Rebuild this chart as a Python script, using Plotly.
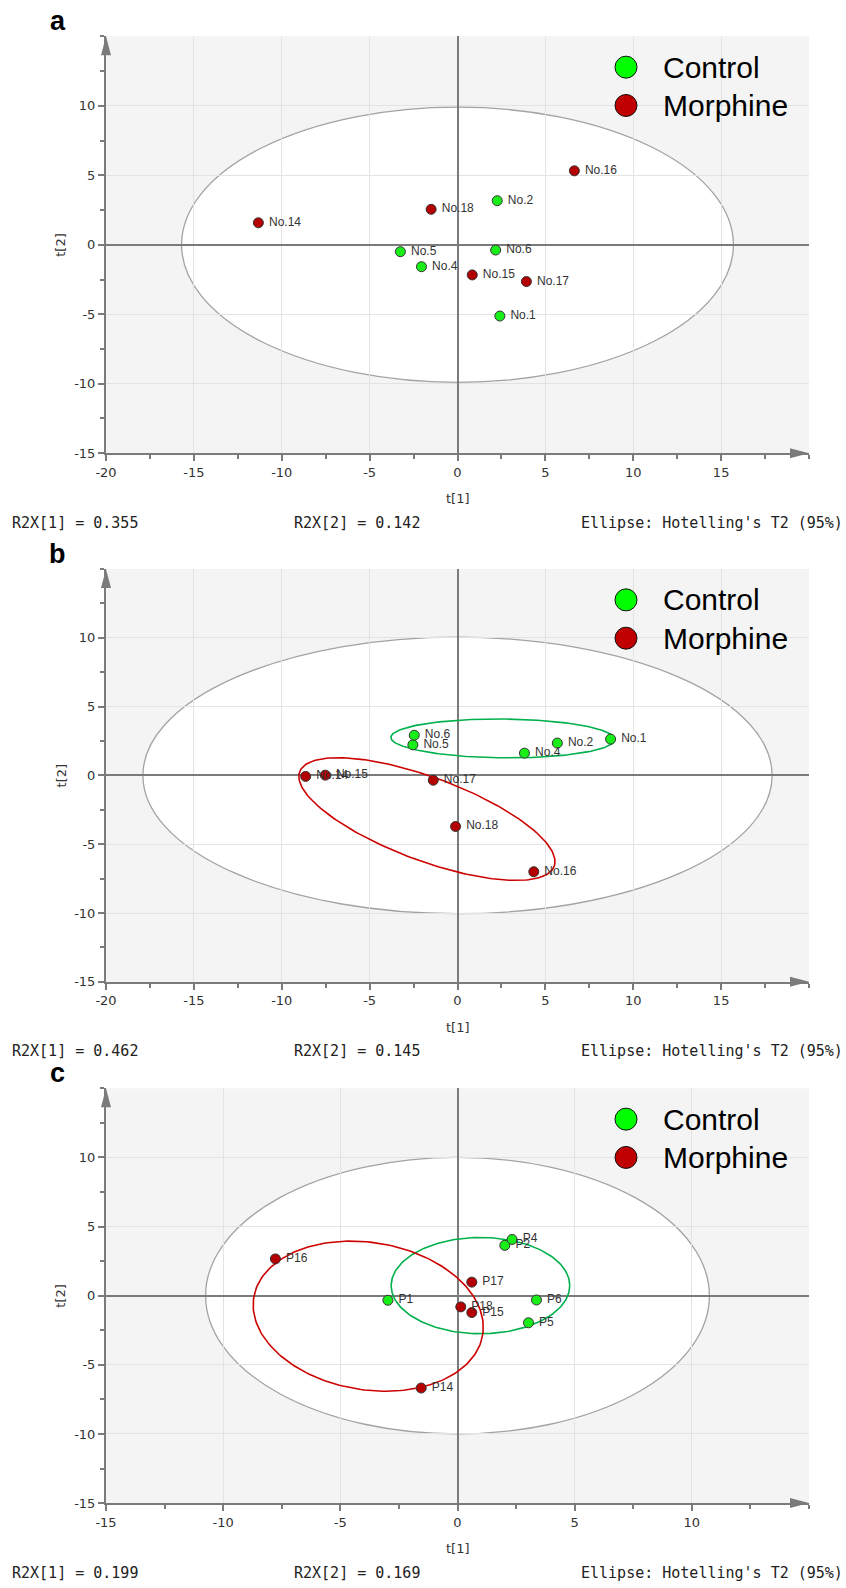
import numpy as np
import plotly.graph_objects as go

W, H = 846, 1588

# ---------------- score data (t[1], t[2]) ----------------
# panel a
a_ctrl_names = ["No.1", "No.2", "No.4", "No.5", "No.6"]
a_ctrl_t1 = [2.41, 2.26, -2.05, -3.25, 2.17]
a_ctrl_t2 = [-5.13, 3.17, -1.58, -0.50, -0.38]
a_morph_names = ["No.14", "No.15", "No.16", "No.17", "No.18"]
a_morph_t1 = [-11.33, 0.84, 6.65, 3.92, -1.50]
a_morph_t2 = [1.58, -2.17, 5.32, -2.65, 2.55]

# panel b
b_ctrl_names = ["No.1", "No.2", "No.4", "No.5", "No.6"]
b_ctrl_t1 = [8.71, 5.68, 3.81, -2.54, -2.46]
b_ctrl_t2 = [2.64, 2.35, 1.62, 2.22, 2.92]
b_morph_names = ["No.14", "No.15", "No.16", "No.17", "No.18"]
b_morph_t1 = [-8.64, -7.52, 4.34, -1.38, -0.11]
b_morph_t2 = [-0.07, 0.02, -7.00, -0.35, -3.71]

# panel c
c_ctrl_names = ["P1", "P2", "P4", "P5", "P6"]
c_ctrl_t1 = [-2.97, 2.02, 2.33, 3.03, 3.37]
c_ctrl_t2 = [-0.33, 3.64, 4.07, -1.96, -0.31]
c_morph_names = ["P14", "P15", "P16", "P17", "P18"]
c_morph_t1 = [-1.55, 0.61, -7.77, 0.61, 0.14]
c_morph_t2 = [-6.68, -1.22, 2.66, 0.98, -0.81]

# Hotelling's T2 (95%) ellipse half-widths (t[1], t[2])
hotelling_a = [15.7, 9.9]
hotelling_b = [17.9, 10.05]
hotelling_c = [10.75, 10.0]

# group ellipses: centre x, centre y, semi-major, semi-minor, angle (deg)
b_ctrl_ell = [2.58, 2.69, 6.37, 1.41, -0.7]
b_morph_ell = [-1.74, -3.17, 8.03, 2.91, -26.8]
c_ctrl_ell = [0.98, 0.73, 3.81, 3.48, 0.0]
c_morph_ell = [-3.81, -1.48, 5.62, 4.69, -62.0]

r2x_a = ["0.355", "0.142"]
r2x_b = ["0.462", "0.145"]
r2x_c = ["0.199", "0.169"]

x_ticks_ab = [-20, -15, -10, -5, 0, 5, 10, 15]
x_ticks_c = [-15, -10, -5, 0, 5, 10]
y_ticks = [-15, -10, -5, 0, 5, 10]

# ---------------- styling ----------------
GREEN = "#19ee19"
RED = "#b40000"
AXIS = "#7b7b7b"
GRID = "#e3e3e3"
BG = "#f4f4f4"
TICKFONT = dict(family="DejaVu Sans", size=13, color="#333333")
LABELFONT = dict(family="Liberation Sans, Arial", size=12, color="#333333")

L_MARGIN, R_MARGIN = 106, 37
PLOT_W = W - L_MARGIN - R_MARGIN


def py(p):
    """pixel row -> paper y"""
    return 1 - p / H


def px(p):
    """pixel column -> paper x"""
    return (p - L_MARGIN) / PLOT_W


def tick_text(vals):
    # plain hyphen-minus for negative numbers
    return ["%d" % v for v in vals]


def ellipse_xy(cx, cy, a, b, ang_deg, n=200):
    t = np.linspace(0, 2 * np.pi, n)
    th = np.deg2rad(ang_deg)
    x = cx + a * np.cos(t) * np.cos(th) - b * np.sin(t) * np.sin(th)
    y = cy + a * np.cos(t) * np.sin(th) + b * np.sin(t) * np.cos(th)
    return x, y


fig = go.Figure()

# panel pixel extents (top, bottom)
panels = [
    dict(key="", top=36.5, bottom=455.5, xr=[-20, 20], xt=x_ticks_ab, letter="a",
         ctrl=(a_ctrl_t1, a_ctrl_t2, a_ctrl_names),
         morph=(a_morph_t1, a_morph_t2, a_morph_names),
         hot=hotelling_a, groups=None, r2x=r2x_a),
    dict(key="2", top=571.9, bottom=986.8, xr=[-20, 20], xt=x_ticks_ab, letter="b",
         ctrl=(b_ctrl_t1, b_ctrl_t2, b_ctrl_names),
         morph=(b_morph_t1, b_morph_t2, b_morph_names),
         hot=hotelling_b, groups=(b_ctrl_ell, b_morph_ell), r2x=r2x_b),
    dict(key="3", top=1093.8, bottom=1510.7, xr=[-15, 15], xt=x_ticks_c, letter="c",
         ctrl=(c_ctrl_t1, c_ctrl_t2, c_ctrl_names),
         morph=(c_morph_t1, c_morph_t2, c_morph_names),
         hot=hotelling_c, groups=(c_ctrl_ell, c_morph_ell), r2x=r2x_c),
]

shapes = []
annotations = []
layout_axes = {}

for p in panels:
    k = p["key"]
    xa, ya = "x" + k, "y" + k
    dom = [py(p["bottom"]), py(p["top"])]

    axis_common = dict(
        showgrid=True, gridcolor=GRID, gridwidth=1,
        zeroline=True, zerolinecolor=AXIS, zerolinewidth=2,
        showline=True, linecolor=AXIS, linewidth=2,
        ticks="outside", ticklen=6, tickwidth=2, tickcolor=AXIS,
        tickfont=TICKFONT, fixedrange=True,
        minor=dict(dtick=2.5, tick0=0, ticks="outside", ticklen=4,
                   tickwidth=2, tickcolor=AXIS, showgrid=False),
    )
    layout_axes["xaxis" + k] = dict(
        axis_common, domain=[0, 1], range=p["xr"], anchor=ya,
        tickmode="array", tickvals=p["xt"], ticktext=tick_text(p["xt"]))
    layout_axes["yaxis" + k] = dict(
        axis_common, domain=dom, range=[-15, 15], anchor=xa,
        tickmode="array", tickvals=y_ticks, ticktext=tick_text(y_ticks))

    # Hotelling ellipse, white fill under the grid
    hx, hy = p["hot"]
    shapes.append(dict(type="circle", xref=xa, yref=ya, x0=-hx, x1=hx, y0=-hy, y1=hy,
                       fillcolor="white", line=dict(color="#a3a3a3", width=1.3),
                       layer="below"))

    # group ellipses
    if p["groups"]:
        for ell, col in zip(p["groups"], ["#00b04c", "#cc0000"]):
            ex, ey = ellipse_xy(*ell)
            fig.add_trace(go.Scatter(x=ex, y=ey, mode="lines", xaxis=xa, yaxis=ya,
                                     line=dict(color=col, width=1.6),
                                     hoverinfo="skip", showlegend=False))

    # score points
    for (t1, t2, names), col in [(p["ctrl"], GREEN), (p["morph"], RED)]:
        fig.add_trace(go.Scatter(
            x=t1, y=t2, text=[" " + n for n in names], mode="markers+text",
            textposition="middle right",
            xaxis=xa, yaxis=ya, cliponaxis=False,
            marker=dict(size=10, color=col, line=dict(color="#333333", width=1)),
            textfont=LABELFONT, showlegend=False))

    # axis arrowheads
    shapes.append(dict(type="path", xref="paper", yref="paper",
                       xsizemode="pixel", ysizemode="pixel",
                       xanchor=1, yanchor=dom[0],
                       path="M-19,-5 L0,0 L-19,5 Z",
                       fillcolor=AXIS, line=dict(width=0), layer="above"))
    shapes.append(dict(type="path", xref="paper", yref="paper",
                       xsizemode="pixel", ysizemode="pixel",
                       xanchor=0, yanchor=dom[1],
                       path="M-5,-19 L0,0 L5,-19 Z",
                       fillcolor=AXIS, line=dict(width=0), layer="above"))

    # legend
    for i, (name, col) in enumerate([("Control", "#00ff00"), ("Morphine", "#c00000")]):
        cy = p["top"] + 31 + 38.5 * i
        shapes.append(dict(type="circle", xref="paper", yref="paper",
                           xsizemode="pixel", ysizemode="pixel",
                           xanchor=px(626), yanchor=py(cy),
                           x0=-11, x1=11, y0=-11, y1=11,
                           fillcolor=col, line=dict(color="#111111", width=1),
                           layer="above"))
        annotations.append(dict(xref="paper", yref="paper", x=px(661), y=py(cy),
                                text=name, showarrow=False, xanchor="left",
                                yanchor="middle",
                                font=dict(family="Liberation Sans, Arial", size=30,
                                          color="#000000")))

    # panel letter
    annotations.append(dict(xref="paper", yref="paper", x=px(58), y=py(p["top"] - 15),
                            text="<b>%s</b>" % p["letter"], showarrow=False,
                            xanchor="center", yanchor="middle",
                            font=dict(family="Liberation Sans, Arial", size=27,
                                      color="#000000")))

    # axis titles
    annotations.append(dict(xref="paper", yref="paper", x=px(458), y=py(p["bottom"] + 46),
                            text="t[1]", showarrow=False, xanchor="center",
                            yanchor="middle", font=TICKFONT))
    annotations.append(dict(xref="paper", yref="paper", x=px(61),
                            y=py((p["top"] + p["bottom"]) / 2),
                            text="t[2]", showarrow=False, textangle=-90,
                            xanchor="center", yanchor="middle", font=TICKFONT))

    # model statistics line
    mono = dict(family="DejaVu Sans Mono", size=15, color="#222222")
    ty = py(p["bottom"] + 70)
    annotations.append(dict(xref="paper", yref="paper", x=px(10), y=ty,
                            text="R2X[1] = %s" % p["r2x"][0], showarrow=False,
                            xanchor="left", yanchor="middle", font=mono))
    annotations.append(dict(xref="paper", yref="paper", x=px(292), y=ty,
                            text="R2X[2] = %s" % p["r2x"][1], showarrow=False,
                            xanchor="left", yanchor="middle", font=mono))
    annotations.append(dict(xref="paper", yref="paper", x=px(845), y=ty,
                            text="Ellipse: Hotelling's T2 (95%)", showarrow=False,
                            xanchor="right", yanchor="middle", font=mono))

fig.update_layout(
    width=W, height=H,
    margin=dict(l=L_MARGIN, r=R_MARGIN, t=0, b=0),
    paper_bgcolor="white", plot_bgcolor=BG,
    showlegend=False,
    shapes=shapes, annotations=annotations,
    **layout_axes,
)

fig.write_html("out.html", config={"displayModeBar": False})
